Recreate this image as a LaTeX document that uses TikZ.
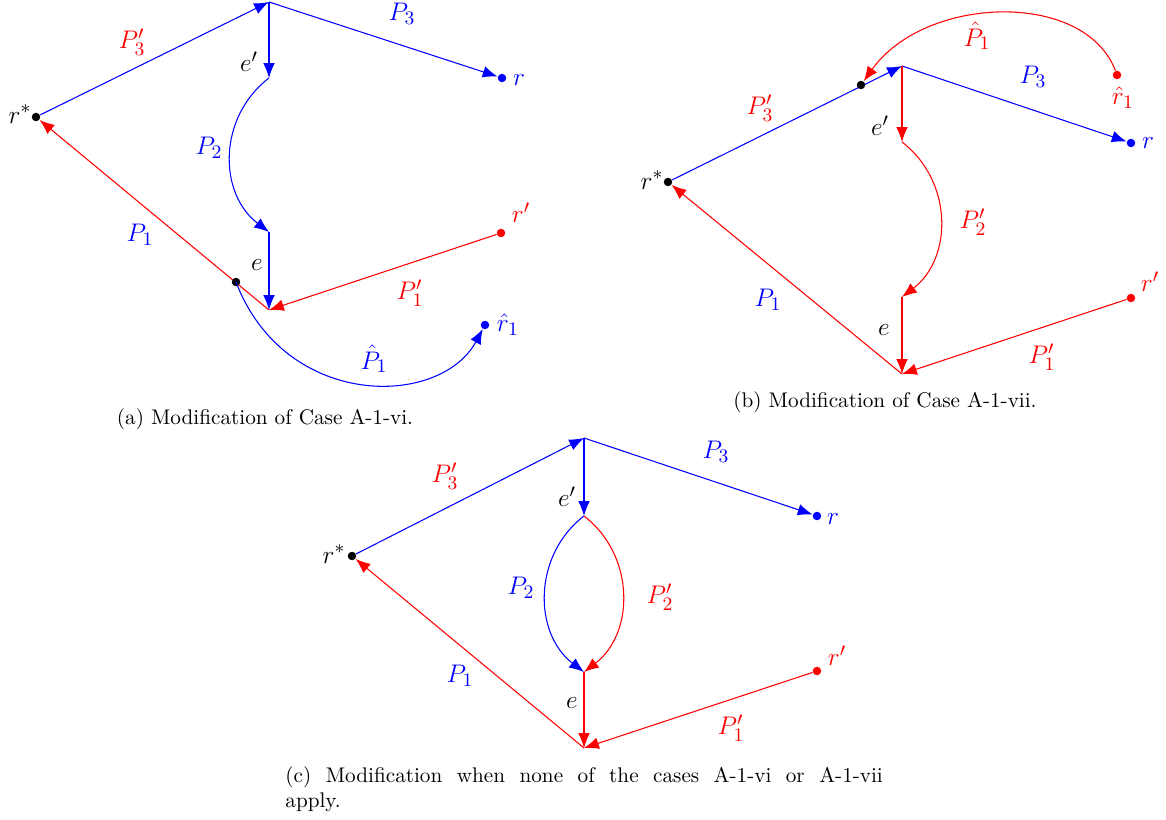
\documentclass[tikz,border=0pt]{standalone}
\usetikzlibrary{arrows.meta}
\begin{document}
\begin{tikzpicture}[x=0.472pt,y=-0.472pt,
  ln/.style={line width=0.5pt},
  arr/.style={ln,-{Latex[length=7pt,width=5.5pt]}},
  dot/.style={circle, fill, inner sep=0pt, minimum size=4pt},
  lbl/.style={inner sep=0pt, font=\fontsize{13}{15}\selectfont},
  capt/.style={inner sep=0pt, font=\fontsize{10}{12}\selectfont}]
\useasboundingbox (0,0) rectangle (1166,820);

% ---------------- (a) ----------------
\coordinate (aT) at (269,2);
\coordinate (aEp) at (269,78);
\coordinate (aE) at (269,232);
\coordinate (aB) at (269,310);
\node[dot,black] (aRs) at (36,117) {};
\node[dot,blue] (aR) at (502,78) {};
\node[dot,red] (aRp) at (501,233) {};
\node[dot,blue] (aRh) at (485,325) {};
\draw[arr,red] (aB) -- (aRs);
\node[dot,black] (aD) at (236,282) {};
\draw[arr,blue] (aRs) -- (aT);
\draw[arr,blue] (aT) -- (aR);
\draw[arr,blue] (aT) -- (aEp);
\draw[arr,blue] (aEp) .. controls +(-51,39) and +(-51,-39) .. (aE);
\draw[arr,blue] (aE) -- (aB);
\draw[arr,red] (aRp) -- (aB);
\draw[arr,blue] (aD.center) .. controls (285,410) and (440,408) .. (aRh);
\node[lbl] (aLrs) at (20,114) {$r^*$};
\node[lbl,red] (aLP3p) at (132,42) {$P_3'$};
\node[lbl,blue] (aLP3) at (402,14) {$P_3$};
\node[lbl,blue] (aLr) at (519,80) {$r$};
\node[lbl] (aLep) at (249,62) {$e'$};
\node[lbl,blue] (aLP2) at (209,148) {$P_2$};
\node[lbl] (aLe) at (257,265) {$e$};
\node[lbl,blue] (aLP1) at (140,235) {$P_1$};
\node[lbl,red] (aLrp) at (521,213) {$r'$};
\node[lbl,red] (aLP1p) at (410,293) {$P_1'$};
\node[lbl,blue] (aLPh) at (374,359) {$\hat{P}_1$};
\node[lbl,blue] (aLrh) at (508,325) {$\hat{r}_1$};
\node[capt,anchor=base] (aCap) at (265,425) {(a) Modification of Case A-1-vi.};

% ---------------- (b) ----------------
\coordinate (bT) at (902,66);
\coordinate (bEp) at (902,142);
\coordinate (bE) at (902,297);
\coordinate (bB) at (902,374);
\node[dot,black] (bRs) at (668,182) {};
\node[dot,blue] (bR) at (1131,143) {};
\node[dot,red] (bRp) at (1131,298) {};
\node[dot,red] (bRh) at (1117,75) {};
\draw[arr,blue] (bRs) -- (bT);
\node[dot,black] (bD) at (861,85) {};
\draw[arr,blue] (bT) -- (bR);
\draw[arr,red] (bT) -- (bEp);
\draw[arr,red] (bEp) .. controls +(51,39) and +(51,-39) .. (bE);
\draw[arr,red] (bE) -- (bB);
\draw[arr,red] (bB) -- (bRs);
\draw[arr,red] (bRp) -- (bB);
\draw[arr,red] (bRh) .. controls (1085,-10) and (925,-5) .. (bD);
\node[lbl] (bLrs) at (652,180) {$r^*$};
\node[lbl,red] (bLP3p) at (760,108) {$P_3'$};
\node[lbl,red] (bLPh) at (977,36) {$\hat{P}_1$};
\node[lbl,blue] (bLP3) at (1033,77) {$P_3$};
\node[lbl,red] (bLrh) at (1123,98) {$\hat{r}_1$};
\node[lbl,blue] (bLr) at (1148,143) {$r$};
\node[lbl] (bLep) at (880,126) {$e'$};
\node[lbl,red] (bLP2p) at (973,222) {$P_2'$};
\node[lbl,blue] (bLP1) at (768,300) {$P_1$};
\node[lbl] (bLe) at (884,330) {$e$};
\node[lbl,red] (bLrp) at (1150,282) {$r'$};
\node[lbl,red] (bLP1p) at (1042,357) {$P_1'$};
\node[capt,anchor=base] (bCap) at (885,408) {(b) Modification of Case A-1-vii.};

% ---------------- (c) ----------------
\coordinate (cT) at (584,438);
\coordinate (cEp) at (584,516);
\coordinate (cE) at (584,672);
\coordinate (cB) at (584,748);
\node[dot,black] (cRs) at (352,556) {};
\node[dot,blue] (cR) at (817,516) {};
\node[dot,red] (cRp) at (817,671) {};
\draw[arr,blue] (cRs) -- (cT);
\draw[arr,blue] (cT) -- (cR);
\draw[arr,blue] (cT) -- (cEp);
\draw[arr,blue] (cEp) .. controls +(-51,39) and +(-51,-39) .. (cE);
\draw[arr,red] (cEp) .. controls +(51,39) and +(51,-39) .. (cE);
\draw[arr,red] (cE) -- (cB);
\draw[arr,red] (cB) -- (cRs);
\draw[arr,red] (cRp) -- (cB);
\node[lbl] (cLrs) at (334,554) {$r^*$};
\node[lbl,red] (cLP3p) at (445,476) {$P_3'$};
\node[lbl,blue] (cLP3) at (716,452) {$P_3$};
\node[lbl,blue] (cLr) at (833,519) {$r$};
\node[lbl] (cLep) at (567,497) {$e'$};
\node[lbl,blue] (cLP2) at (521,588) {$P_2$};
\node[lbl,red] (cLP2p) at (660,597) {$P_2'$};
\node[lbl] (cLe) at (572,703) {$e$};
\node[lbl,blue] (cLP1) at (460,676) {$P_1$};
\node[lbl,red] (cLrp) at (837,656) {$r'$};
\node[lbl,red] (cLP1p) at (731,728) {$P_1'$};
\node[capt,anchor=north west] (cCap) at (285,766) {\parbox[t]{282pt}{(c) Modification when none of the cases A-1-vi or A-1-vii\linebreak apply.}};
\end{tikzpicture}
\end{document}
